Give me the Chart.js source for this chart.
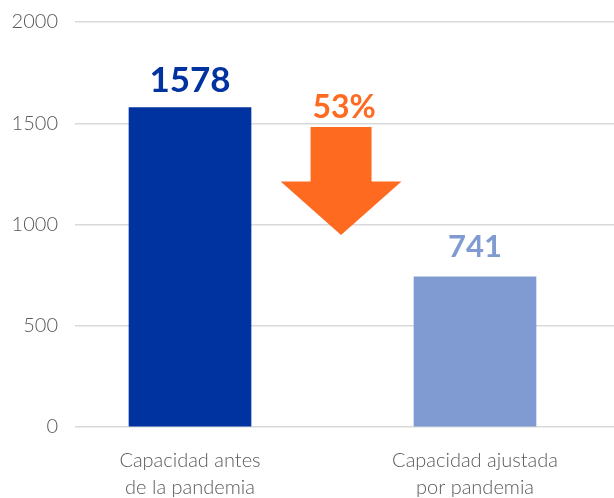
<!DOCTYPE html>
<html>
<head>
<meta charset="utf-8">
<script src="https://cdn.jsdelivr.net/npm/chart.js@4"></script>
<style>
  html, body { margin: 0; padding: 0; background: #fff; overflow: hidden; }
</style>
</head>
<body>
<canvas id="myChart" width="614" height="498"></canvas>
<script>
const categories = [['Capacidad antes', 'de la pandemia'], ['Capacidad ajustada', 'por pandemia']]
const values = [1578, 741]
const barColors = ['#0033A0', '#7F9BD1']
const yTicks = [0, 500, 1000, 1500, 2000]
const changeLabel = '53%'

const ORANGE = '#FF6A21'
const GRAY = '#595959'

// value labels above each bar
const valueLabels = {
  id: 'valueLabels',
  afterDatasetsDraw (chart) {
    const ctx = chart.ctx
    const meta = chart.getDatasetMeta(0)
    const sizes = [35, 31]
    const gaps = [15, 20]
    ctx.save()
    ctx.textAlign = 'center'
    ctx.textBaseline = 'alphabetic'
    meta.data.forEach((bar, i) => {
      ctx.fillStyle = barColors[i]
      ctx.font = 'bold ' + sizes[i] + 'px Lato'
      ctx.fillText(String(values[i]), bar.x, bar.y - gaps[i])
    })
    ctx.restore()
  }
}

// orange down arrow between the bars, placed in scale units
const dropArrow = {
  id: 'dropArrow',
  afterDatasetsDraw (chart) {
    const { ctx, scales: { x, y } } = chart
    const cx = x.getPixelForValue(0.53)
    const shaftHalf = x.getPixelForValue(0.53 + 0.107) - cx
    const headHalf = x.getPixelForValue(0.53 + 0.212) - cx
    const top = y.getPixelForValue(1482)
    const neck = y.getPixelForValue(1212)
    const tip = y.getPixelForValue(948)
    ctx.save()
    ctx.fillStyle = ORANGE
    ctx.beginPath()
    ctx.moveTo(cx - shaftHalf, top)
    ctx.lineTo(cx + shaftHalf, top)
    ctx.lineTo(cx + shaftHalf, neck)
    ctx.lineTo(cx + headHalf, neck)
    ctx.lineTo(cx, tip)
    ctx.lineTo(cx - headHalf, neck)
    ctx.lineTo(cx - shaftHalf, neck)
    ctx.closePath()
    ctx.fill()
    ctx.font = 'bold 32px Lato'
    ctx.textAlign = 'center'
    ctx.fillText(changeLabel, cx + 3, top - 9)
    ctx.restore()
  }
}

const ctx = document.getElementById('myChart').getContext('2d')
new Chart(ctx, {
  type: 'bar',
  data: {
    datasets: [{
      data: values.map((v, i) => ({ x: i, y: v })),
      backgroundColor: barColors,
      barThickness: 122
    }]
  },
  options: {
    responsive: false,
    animation: false,
    layout: { padding: { top: 22, right: 0, left: 0, bottom: 0 } },
    scales: {
      x: {
        type: 'linear',
        offset: false,
        min: -0.4035,
        max: 1.4877,
        grid: { display: false },
        border: { display: false },
        afterBuildTicks (scale) {
          scale.ticks = [{ value: 0 }, { value: 1 }]
        },
        afterFit (scale) {
          scale.height = 71
        },
        ticks: {
          autoSkip: false,
          maxRotation: 0,
          padding: 12,
          color: GRAY,
          font: { family: 'Lato', size: 20, weight: 300, lineHeight: 1.35 },
          callback: (v) => categories[v]
        }
      },
      y: {
        min: 0,
        max: 2000,
        afterBuildTicks (scale) {
          scale.ticks = yTicks.map(v => ({ value: v }))
        },
        afterFit (scale) {
          scale.width = 75
          scale.paddingTop = 0
          scale.paddingBottom = 0
        },
        grid: { color: '#D9D9D9', lineWidth: 1.5, drawTicks: false },
        border: { display: false },
        ticks: {
          padding: 17,
          color: GRAY,
          font: { family: 'Lato', size: 20, weight: 300 },
          callback: (v) => String(v)
        }
      }
    },
    plugins: {
      legend: { display: false },
      tooltip: { enabled: false }
    }
  },
  plugins: [valueLabels, dropArrow]
})
</script>
</body>
</html>
